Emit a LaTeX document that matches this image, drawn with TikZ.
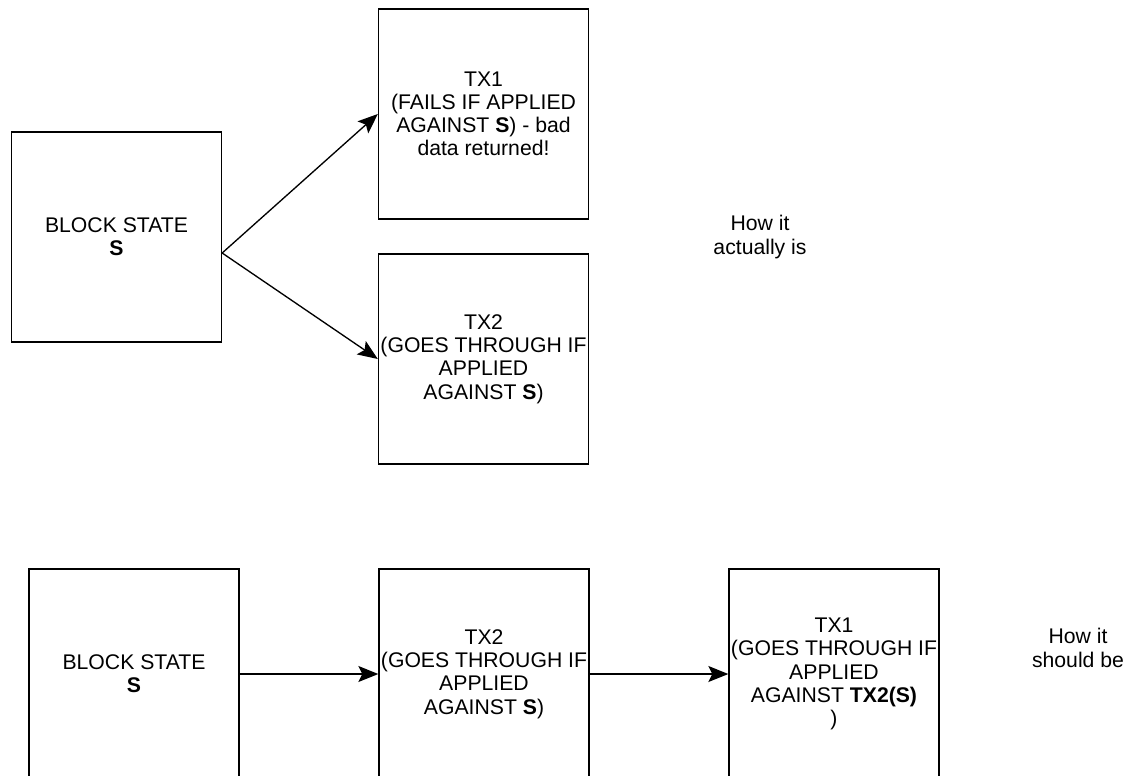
\documentclass[tikz,border=0pt]{standalone}
\usepackage{fontspec}
\setmainfont{Liberation Sans}
\usetikzlibrary{arrows.meta}

\tikzset{every picture/.style={line width=1pt}}
\tikzset{
  txbox/.style={draw, minimum width=157.5pt, minimum height=157.5pt,
    inner sep=0pt, align=center, font=\fontsize{15.9}{17.4}\selectfont},
  note/.style={align=center, font=\fontsize{15.9}{18.5}\selectfont},
  link/.style={-{Stealth[length=15pt,width=12pt,inset=3pt]}},
}

\begin{document}
\begin{tikzpicture}[x=0.75pt, y=-0.75pt]
        \useasboundingbox (0,0) rectangle (1127,775);
        % how it actually is
        \node[txbox] (blockS) at (116.5,237) {BLOCK STATE\\\textbf{S}};
        \node[txbox] (txOne) at (483.5,114) {TX1\\(FAILS IF APPLIED\\AGAINST \textbf{S}) - bad\\data returned!};
        \node[txbox] (txTwo) at (483.5,359) {TX2\\(GOES THROUGH IF\\APPLIED\\AGAINST \textbf{S})};
        \node[note] (actual) at (760,237) {How it\\actually is};
        \draw[link] ([yshift=-12pt]blockS.east) -- (txOne.west);
        \draw[link] ([yshift=-12pt]blockS.east) -- (txTwo.west);
        % how it should be
        \node[txbox] (blockSb) at (134,674) {BLOCK STATE\\\textbf{S}};
        \node[txbox] (txTwob) at (484,674) {TX2\\(GOES THROUGH IF\\APPLIED\\AGAINST \textbf{S})};
        \node[txbox] (txOneb) at (834,674) {TX1\\(GOES THROUGH IF\\APPLIED\\AGAINST \textbf{TX2(S)}\\)};
        \node[note] (should) at (1078,648) {How it\\should be};
        \draw[link] (blockSb) -- (txTwob);
        \draw[link] (txTwob) -- (txOneb);
    \end{tikzpicture}
\end{document}
